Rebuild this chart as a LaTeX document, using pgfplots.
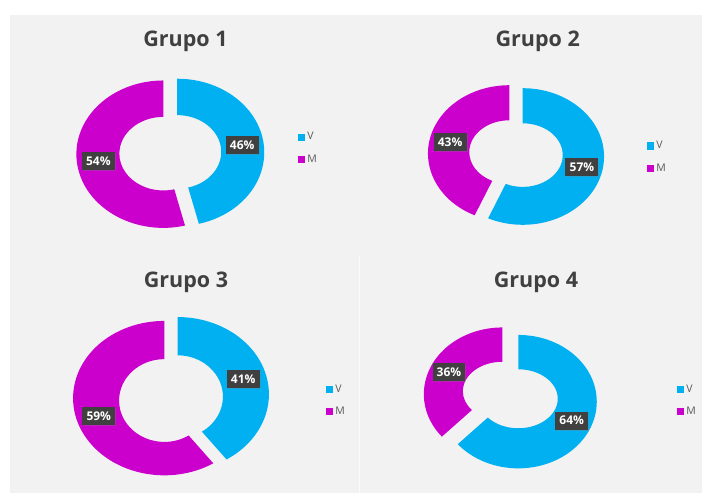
\documentclass[border=0pt]{standalone}
\usepackage{pgfplots}
\pgfplotsset{compat=1.18}
\usepackage{pgfplotstable}
\usepackage{fontspec}
\setmainfont{Open Sans}
\usetikzlibrary{shadows}

\definecolor{vcol}{HTML}{00B0F0}
\definecolor{mcol}{HTML}{CC00CC}
\definecolor{bgcol}{HTML}{F2F2F2}
\definecolor{titcol}{HTML}{404040}
\definecolor{boxcol}{HTML}{404040}
\definecolor{legcol}{HTML}{595959}

% shares in percent
\pgfplotstableread{
grupo V M
1 46 54
2 57 43
3 41 59
4 64 36
}\datos

% layout of each donut (pt, origin bottom left)
\pgfplotstableread{
cx cy Rx Ry rx ry hdy d lx ly tx ty
170.3 339.7 87 73.7 44 36.8 0.5 7 298 344.75 185.5 446
516 338 81.3 68.3 40 31.8 1.4 6.9 647 336 537.7 446
171 96.8 91.3 77.2 45.3 41.4 -2.4 6.9 326 92.75 186 205
510.3 95.1 78.5 66.7 39.5 29.5 2.9 8.8 677 92.75 536 205
}\geo

\pgfplotsset{
  donut/.style={
    hide axis, x=1pt, y=1pt,
    xmin=0, xmax=702, ymin=0, ymax=493,
    enlargelimits=false, clip=false,
    legend cell align=left,
    legend image code/.code={\fill[##1] (0pt,-3.2pt) rectangle (6.4pt,3.2pt);
      \path (8pt,0pt);},
    legend style={draw=none, fill=none, inner sep=0pt, outer sep=0pt,
      anchor=west, font=\fontsize{10.5}{12}\selectfont, text=legcol,
      row sep=11.5pt, nodes={inner sep=1pt}},
  },
}
\tikzset{
  lbl/.style={fill=boxcol, text=white, font=\fontsize{12}{14}\selectfont\bfseries,
    inner xsep=4.2pt, inner ysep=4.85pt, text height=8.6pt, text depth=0pt,
    drop shadow={opacity=0.3, shadow xshift=1pt, shadow yshift=-1pt}},
}

\newcommand\gget[2]{\pgfplotstablegetelem{#1}{#2}\of\geo\expandafter\let\csname g#2\endcsname\pgfplotsretval}

\newcommand\donut[1]{%
  \pgfplotstablegetelem{#1}{grupo}\of\datos\let\grp\pgfplotsretval
  \pgfplotstablegetelem{#1}{V}\of\datos\let\vv\pgfplotsretval
  \pgfplotstablegetelem{#1}{M}\of\datos\let\mv\pgfplotsretval
  \gget{#1}{cx}\gget{#1}{cy}\gget{#1}{Rx}\gget{#1}{Ry}\gget{#1}{rx}\gget{#1}{ry}%
  \gget{#1}{hdy}\gget{#1}{d}\gget{#1}{lx}\gget{#1}{ly}\gget{#1}{tx}\gget{#1}{ty}%
  \pgfmathsetmacro\ve{90-3.6*\vv}%
  \pgfmathsetmacro\vm{90-1.8*\vv}%
  \pgfmathsetmacro\mm{\ve-1.8*\mv}%
  \pgfmathsetmacro\ixv{\grx*cos(\ve)}%
  \pgfmathsetmacro\iyv{\ghdy+\gry*sin(\ve)}%
  \pgfmathsetmacro\iym{\ghdy+\gry}%
  \pgfmathsetmacro\midx{(\gRx+\grx)/2}%
  \pgfmathsetmacro\midy{(\gRy+\gry)/2}%
  \pgfmathsetmacro\lvx{\midx*cos(\vm)}%
  \pgfmathsetmacro\lvy{\ghdy/2+\midy*sin(\vm)}%
  \pgfmathsetmacro\lmx{\midx*cos(\mm)}%
  \pgfmathsetmacro\lmy{\ghdy/2+\midy*sin(\mm)}%
  \begin{axis}[donut, legend style={at={(axis cs:\glx,\gly)}}]
    \addlegendimage{vcol}\addlegendentry{V}
    \addlegendimage{mcol}\addlegendentry{M}
    \begin{scope}[shift={(axis cs:\gcx,\gcy)}]
      \begin{scope}[shift={(\vm:\gd pt)}]
        \fill[vcol] (90:\gRx pt and \gRy pt)
          arc[start angle=90, end angle=\ve, x radius=\gRx pt, y radius=\gRy pt]
          -- (\ixv pt,\iyv pt)
          arc[start angle=\ve, end angle=90, x radius=\grx pt, y radius=\gry pt]
          -- cycle;
        \node[lbl] at (\lvx pt,\lvy pt) {\vv\%};
      \end{scope}
      \begin{scope}[shift={(\mm:\gd pt)}]
        \fill[mcol] (\ve:\gRx pt and \gRy pt)
          arc[start angle=\ve, end angle=-270, x radius=\gRx pt, y radius=\gRy pt]
          -- (0pt,\iym pt)
          arc[start angle=-270, end angle=\ve, x radius=\grx pt, y radius=\gry pt]
          -- cycle;
        \node[lbl] at (\lmx pt,\lmy pt) {\mv\%};
      \end{scope}
    \end{scope}
    \node[anchor=base, text=titcol, font=\fontsize{21.5}{24}\selectfont\bfseries]
      at (axis cs:\gtx,\gty) {Grupo \grp};
  \end{axis}%
}

\begin{document}
\begin{tikzpicture}
% background panel, in the same 1pt units as the axes
\fill[white] (0,0) rectangle (702pt,493pt);
\fill[bgcol] (10pt,0pt) rectangle (702pt,478pt);
\draw[white!60!bgcol, line width=1pt] (359pt,0pt) -- (359pt,238pt);
\donut{0}
\donut{1}
\donut{2}
\donut{3}
\pgfresetboundingbox
\useasboundingbox (0,0) rectangle (702pt,493pt);
\end{tikzpicture}
\end{document}
